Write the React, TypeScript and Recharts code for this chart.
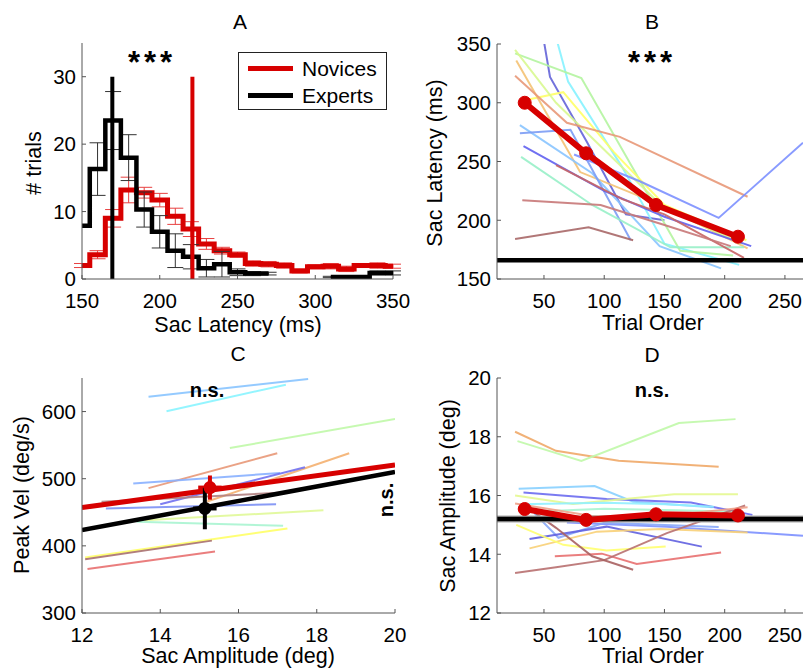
import React from "react";
import { ComposedChart, Line, Scatter, XAxis, YAxis, ErrorBar, Legend } from "recharts";

const FONT = "'Liberation Sans', Arial, Helvetica, sans-serif";
const RED = "#d70000";

// ---- A: saccade latency histograms (bin centres, ms)
const latencyBins = [150, 160, 170, 180, 190, 200, 210, 220, 230, 240, 250, 260, 270, 280, 290, 300, 310, 320, 330, 340, 350];
const novicesCount = [2.0, 3.6, 9.0, 13.2, 12.8, 11.7, 9.3, 7.4, 5.2, 4.2, 3.6, 2.3, 2.2, 2.0, 1.2, 1.8, 1.9, 1.5, 2.0, 2.0, 1.9];
const novicesErr = [0.3, 0.6, 1.3, 1.9, 0.8, 1.0, 1.2, 1.1, 0.8, 0.5, 0.4, 0.4, 0.4, 0.4, 0.3, 0.3, 0.4, 0.4, 0.3, 0.4, 0.3];
const expertsCount = [7.9, 16.3, 23.5, 18.0, 10.3, 7.0, 4.2, 3.3, 1.6, 2.2, 1.0, 0.8, 0.8, null, null, null, 0.3, 0.3, 0.3, 0.9, 0.9];
const expertsErr = [null, 3.9, 4.3, 3.4, 2.6, 2.4, 2.5, 1.8, 1.3, 1.9, 0.5, 0.3, 0.2, null, null, null, 0.1, 0.1, 0.1, 0.3, 0.3];
const novicesMedian = 221;
const expertsMedian = 169.5;
const groupNames = ["Novices", "Experts"];

// ---- B: latency vs trial order, one line per subject
const latencyLines = [
  { color: "#6464d8", pts: [[50, 352], [55, 322], [86, 266], [118, 205], [150, 200]] },
  { color: "#86f2ff", pts: [[61, 352], [70, 318], [115, 245], [150, 180], [212, 162]] },
  { color: "#b4f4a0", pts: [[26, 342], [81, 321], [163, 174], [207, 170]] },
  { color: "#ffff66", pts: [[33, 302], [66, 309], [108, 258], [150, 213], [218, 183]] },
  { color: "#f4c274", pts: [[27, 336], [80, 241], [145, 214], [219, 176]] },
  { color: "#d8f890", pts: [[26, 345], [60, 300], [100, 260], [150, 210], [215, 180]] },
  { color: "#e89878", pts: [[26, 323], [69, 283], [113, 271], [219, 220]] },
  { color: "#88c4ff", pts: [[30, 281], [90, 240], [146, 178], [197, 159]] },
  { color: "#7c9cf4", pts: [[30, 274], [72, 277], [122, 183]] },
  { color: "#7c90ff", pts: [[75, 256], [130, 233], [195, 202], [265, 266]] },
  { color: "#6060f0", pts: [[33, 263], [100, 225], [150, 203], [222, 178]] },
  { color: "#98f0c8", pts: [[31, 254], [90, 213], [155, 177], [216, 177]] },
  { color: "#c86464", pts: [[60, 247], [115, 218], [150, 205], [216, 168]] },
  { color: "#c87878", pts: [[32, 217], [97, 213], [150, 196], [205, 178]] },
  { color: "#a86868", pts: [[26, 184], [87, 194], [124, 183]] },
];
const latencyMean = [[34, 300], [85, 257], [143, 213], [211, 186]];
const latencyExpert = 166;

// ---- C: peak velocity vs amplitude, per-subject fits
const velocityLines = [
  { color: "#88c4ff", pts: [[13.7, 622], [17.78, 648.5]] },
  { color: "#88f4ff", pts: [[14.16, 600.5], [17.21, 640]] },
  { color: "#c0f8a8", pts: [[15.78, 545.7], [20, 589]] },
  { color: "#e89878", pts: [[13.7, 486], [16.99, 538]] },
  { color: "#f4b070", pts: [[15.2, 466], [18.83, 538]] },
  { color: "#88b0ff", pts: [[13.31, 492.8], [17.06, 508.6]] },
  { color: "#7070f0", pts: [[14.0, 462], [17.7, 517]] },
  { color: "#7c90f4", pts: [[12.61, 455.7], [16.96, 462]] },
  { color: "#b08080", pts: [[12.5, 465.6], [17.14, 479.4]] },
  { color: "#a8f4d0", pts: [[13.4, 436], [17.14, 430]] },
  { color: "#e0f898", pts: [[13.6, 438], [18.17, 453]] },
  { color: "#ffff66", pts: [[12.08, 382.5], [17.25, 426]] },
  { color: "#a87070", pts: [[12.08, 380], [15.32, 407.8]] },
  { color: "#e87070", pts: [[12.14, 365.7], [15.4, 391.5]] },
];
const novicesFit = [[12, 457], [20, 520.5]];
const expertsFit = [[12, 423.6], [20, 510]];
const novicesMeanPt = [{ x: 15.27, y: 486.8, ey: 18 }];
const expertsMeanPt = [{ x: 15.14, y: 455.7, ey: 31 }];
// horizontal (amplitude) spread of the two group means
const novicesAmpRange = [[14.97, 486.8], [15.57, 486.8]];
const expertsAmpRange = [[14.84, 455.7], [15.44, 455.7]];

// ---- D: amplitude vs trial order
const amplitudeLines = [
  { color: "#f0a868", pts: [[26, 18.17], [60, 17.52], [112, 17.18], [195, 16.98]] },
  { color: "#c0f8a8", pts: [[28, 17.85], [81, 17.18], [162, 18.47], [209, 18.6]] },
  { color: "#88d0ff", pts: [[29, 16.23], [92, 16.32], [124, 15.79], [190, 15.6]] },
  { color: "#6c6cf0", pts: [[33, 16.1], [102, 15.88], [172, 15.76], [223, 15.34]] },
  { color: "#e4f890", pts: [[26, 16.0], [74, 15.71], [158, 16.04], [211, 16.04]] },
  { color: "#90f0ff", pts: [[30, 15.7], [100, 15.75], [150, 15.7], [191, 15.62]] },
  { color: "#a8f4d0", pts: [[40, 15.45], [100, 15.55], [160, 15.5], [210, 15.45]] },
  { color: "#7c90ff", pts: [[69, 15.08], [152, 14.94], [265, 14.63]] },
  { color: "#88a8f8", pts: [[42, 15.4], [62, 14.56], [100, 15.07], [195, 14.93]] },
  { color: "#6060e0", pts: [[38, 14.52], [102, 14.94], [181, 14.26]] },
  { color: "#f8d078", pts: [[38, 14.2], [94, 14.77], [147, 14.86], [219, 14.74]] },
  { color: "#ffff70", pts: [[27, 15.0], [66, 14.32], [102, 14.13], [151, 14.26]] },
  { color: "#e87070", pts: [[59, 13.93], [98, 14.02], [127, 13.67], [197, 14.06]] },
  { color: "#b87070", pts: [[26, 13.36], [60, 13.56], [100, 13.8], [152, 14.72], [217, 15.66]] },
  { color: "#a86060", pts: [[36, 15.6], [60, 14.9], [90, 13.93], [124, 13.47]] },
  { color: "#f0a088", pts: [[26, 15.73], [90, 15.3], [150, 15.3], [219, 15.6]] },
];
const amplitudeMean = [[34, 15.54], [85, 15.17], [143, 15.36], [211, 15.32]];
const amplitudeExpert = 15.2;

const trialTicks = [50, 100, 150, 200, 250];
const trialDomain = [11, 265];

const toXY = (a: number[][]) => a.map(([x, y]) => ({ x, y }));

const histData = latencyBins.map((x, i) => ({
  x,
  nov: novicesCount[i],
  novErr: novicesErr[i],
  exp: expertsCount[i],
  expErr: expertsErr[i],
}));

const tickStyle = { fill: "#000", fontSize: 20.5, fontFamily: FONT };

const xAxis = (domain: number[], ticks: number[]) => (
  <XAxis
    type="number"
    dataKey="x"
    domain={domain}
    ticks={ticks}
    interval={0}
    allowDataOverflow
    stroke="#555"
    tickSize={-4}
    tickMargin={18}
    height={30}
    tick={tickStyle}
  />
);

const yAxis = (domain: number[], ticks: number[]) => (
  <YAxis
    type="number"
    domain={domain}
    ticks={ticks}
    interval={0}
    allowDataOverflow
    stroke="#555"
    tickSize={-4}
    tickMargin={10}
    width={60}
    tick={tickStyle}
  />
);

const thin = (l: { color: string; pts: number[][] }, i: number) => (
  <Line
    key={i}
    data={toXY(l.pts)}
    dataKey="y"
    stroke={l.color}
    strokeOpacity={0.9}
    strokeWidth={2}
    dot={false}
    legendType="none"
    isAnimationActive={false}
  />
);

const Label = ({ children, x, y, rotate, style }: any) => (
  <div
    style={{
      position: "absolute",
      left: x,
      top: y,
      transform: `translate(-50%, -50%)${rotate ? " rotate(-90deg)" : ""}`,
      whiteSpace: "nowrap",
      fontFamily: FONT,
      fontSize: 21.5,
      lineHeight: 1,
      color: "#000",
      ...style,
    }}
  >
    {children}
  </div>
);

const LegendBox = ({ payload }: any) => {
  const items = groupNames
    .map((n) => (payload || []).find((p: any) => p.value === n))
    .filter(Boolean);
  return (
    <div
      style={{
        width: 138,
        height: 54,
        border: "1px solid #222",
        background: "#fff",
        fontFamily: FONT,
        fontSize: 21,
        padding: "2px 0 0 9px",
        boxSizing: "content-box",
      }}
    >
      {items.map((p: any) => (
        <div key={p.value} style={{ display: "flex", alignItems: "center", height: 27 }}>
          <div style={{ width: 45, height: 5, background: p.color, marginRight: 9 }} />
          <span>{p.value}</span>
        </div>
      ))}
    </div>
  );
};

const flat = (pts: number[][], color: string) => (
  <Line data={toXY(pts)} dataKey="y" stroke={color} strokeWidth={4} dot={false} legendType="none" isAnimationActive={false} />
);

export default function App() {
  return (
    <div style={{ position: "absolute", left: 0, top: 0, width: 803, height: 668, background: "#fff", overflow: "hidden" }}>
      {/* A */}
      <div style={{ position: "absolute", left: 0, top: 0 }}>
        <ComposedChart width={420} height={334} data={histData} margin={{ top: 43, right: 27, left: 22, bottom: 25 }}>
          {xAxis([150, 350], [150, 200, 250, 300, 350])}
          {yAxis([0, 35], [0, 10, 20, 30])}
          <Line type="step" dataKey="nov" name="Novices" stroke={RED} strokeWidth={5} dot={false} isAnimationActive={false}>
            <ErrorBar dataKey="novErr" width={8} stroke="#e84040" strokeWidth={1} />
          </Line>
          <Line type="step" dataKey="exp" name="Experts" stroke="#000" strokeWidth={4.5} dot={false} isAnimationActive={false}>
            <ErrorBar dataKey="expErr" width={8} stroke="#333" strokeWidth={1} />
          </Line>
          {flat([[expertsMedian, 0], [expertsMedian, 30]], "#000")}
          {flat([[novicesMedian, 0], [novicesMedian, 30]], RED)}
          <Legend
            layout="horizontal"
            verticalAlign="middle"
            align="center"
            content={<LegendBox />}
            wrapperStyle={{ left: 238, top: 52, width: 150, height: 60 }}
          />
        </ComposedChart>
      </div>

      {/* B */}
      <div style={{ position: "absolute", left: 400, top: 0 }}>
        <ComposedChart width={403} height={334} margin={{ top: 44, right: 0, left: 37, bottom: 25 }}>
          {xAxis(trialDomain, trialTicks)}
          {yAxis([150, 350], [150, 200, 250, 300, 350])}
          {latencyLines.map(thin)}
          <Line
            data={[{ x: trialDomain[0], y: latencyExpert }, { x: trialDomain[1], y: latencyExpert }]}
            dataKey="y"
            stroke="#000"
            strokeWidth={4.5}
            dot={false}
            isAnimationActive={false}
          />
          <Line
            data={toXY(latencyMean)}
            dataKey="y"
            stroke={RED}
            strokeWidth={6}
            dot={{ r: 6.5, fill: RED, stroke: RED, strokeWidth: 1 }}
            isAnimationActive={false}
          />
        </ComposedChart>
      </div>

      {/* C */}
      <div style={{ position: "absolute", left: 0, top: 334 }}>
        <ComposedChart width={420} height={334} margin={{ top: 44, right: 25, left: 22, bottom: 25 }}>
          {xAxis([12, 20], [12, 14, 16, 18, 20])}
          {yAxis([300, 650], [300, 400, 500, 600])}
          {velocityLines.map(thin)}
          <Line data={toXY(novicesFit)} dataKey="y" stroke={RED} strokeWidth={5} dot={false} isAnimationActive={false} />
          <Line data={toXY(expertsFit)} dataKey="y" stroke="#000" strokeWidth={4.5} dot={false} isAnimationActive={false} />
          {flat(novicesAmpRange, RED)}
          {flat(expertsAmpRange, "#000")}
          <Scatter
            data={novicesMeanPt}
            dataKey="y"
            fill={RED}
            isAnimationActive={false}
            shape={(p: any) => <circle cx={p.cx} cy={p.cy} r={6.5} fill={RED} />}
          >
            <ErrorBar dataKey="ey" direction="y" width={0} stroke={RED} strokeWidth={4} />
          </Scatter>
          <Scatter
            data={expertsMeanPt}
            dataKey="y"
            fill="#000"
            isAnimationActive={false}
            shape={(p: any) => <circle cx={p.cx} cy={p.cy} r={6.5} fill="#000" />}
          >
            <ErrorBar dataKey="ey" direction="y" width={0} stroke="#000" strokeWidth={4} />
          </Scatter>
        </ComposedChart>
      </div>

      {/* D */}
      <div style={{ position: "absolute", left: 400, top: 334 }}>
        <ComposedChart width={403} height={334} margin={{ top: 44, right: 0, left: 37, bottom: 25 }}>
          {xAxis(trialDomain, trialTicks)}
          {yAxis([12, 20], [12, 14, 16, 18, 20])}
          {amplitudeLines.map(thin)}
          <Line
            data={[{ x: trialDomain[0], y: amplitudeExpert }, { x: trialDomain[1], y: amplitudeExpert }]}
            dataKey="y"
            stroke="#aaa"
            strokeWidth={7}
            dot={false}
            isAnimationActive={false}
          />
          <Line
            data={[{ x: trialDomain[0], y: amplitudeExpert }, { x: trialDomain[1], y: amplitudeExpert }]}
            dataKey="y"
            stroke="#000"
            strokeWidth={4.5}
            dot={false}
            isAnimationActive={false}
          />
          <Line
            data={toXY(amplitudeMean)}
            dataKey="y"
            stroke={RED}
            strokeWidth={6}
            dot={{ r: 6.5, fill: RED, stroke: RED, strokeWidth: 1 }}
            isAnimationActive={false}
          />
        </ComposedChart>
      </div>

      {/* titles, labels, annotations */}
      <Label x={240} y={21} style={{ fontSize: 21 }}>A</Label>
      <Label x={652} y={21} style={{ fontSize: 21 }}>B</Label>
      <Label x={238} y={353} style={{ fontSize: 21 }}>C</Label>
      <Label x={652} y={354} style={{ fontSize: 21 }}>D</Label>

      <Label x={152} y={62} style={{ fontSize: 31, fontWeight: "bold", letterSpacing: 4 }}>***</Label>
      <Label x={652} y={62} style={{ fontSize: 31, fontWeight: "bold", letterSpacing: 4 }}>***</Label>
      <Label x={207} y={390} style={{ fontSize: 20, fontWeight: "bold" }}>n.s.</Label>
      <Label x={652} y={390} style={{ fontSize: 20, fontWeight: "bold" }}>n.s.</Label>
      <Label x={386} y={500} rotate style={{ fontSize: 20, fontWeight: "bold" }}>n.s.</Label>

      <Label x={35} y={163} rotate># trials</Label>
      <Label x={238} y={326}>Sac Latency (ms)</Label>
      <Label x={436} y={163} rotate>Sac Latency (ms)</Label>
      <Label x={653} y={324}>Trial Order</Label>
      <Label x={23} y={495} rotate>Peak Vel (deg/s)</Label>
      <Label x={238} y={657}>Sac Amplitude (deg)</Label>
      <Label x={449} y={496} rotate>Sac Amplitude (deg)</Label>
      <Label x={653} y={657}>Trial Order</Label>
    </div>
  );
}
